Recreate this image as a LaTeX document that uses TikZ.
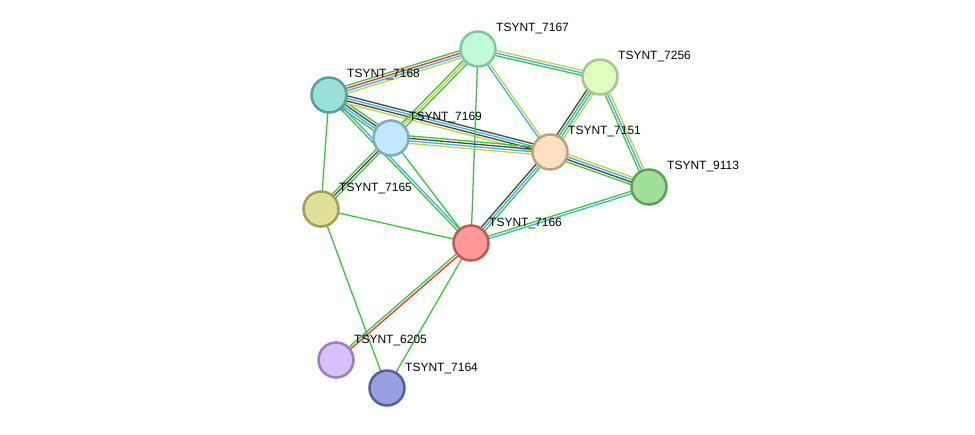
\documentclass[tikz,border=0pt]{standalone}
\usepackage{fontspec}
\setmainfont{Liberation Sans}
\usetikzlibrary{calc,backgrounds}

\definecolor{lgreen}{RGB}{60,195,60}
\definecolor{lblue}{RGB}{50,180,230}
\definecolor{lyellow}{RGB}{195,210,60}
\definecolor{ldark}{RGB}{70,70,70}
\definecolor{lred}{RGB}{240,50,50}

\tikzset{
  prot/.style={circle, minimum size=35pt, inner sep=0pt, line width=2.5pt},
  lbl/.style={anchor=west, inner sep=0pt, font=\fontsize{12}{12}\selectfont}
}

% one line per evidence channel, set side by side
\newcommand{\edgeset}[4]{%
  \foreach \col [count=\k] in {#4} {
    \pgfmathsetmacro{\off}{(\k-(#3+1)/2)*2.5}
    \draw[\col, line width=1.3pt] ($(#1)!\off pt!90:(#2)$) -- ($(#2)!\off pt!-90:(#1)$);
  }}

\begin{document}
\begin{tikzpicture}[x=1pt, y=-1pt]
  \useasboundingbox (0,0) rectangle (975,434);

  \node[prot, fill={rgb,255:red,192;green,250;blue,216}, draw={rgb,255:red,128;green,200;blue,160}] (n7167) at (478,49) {};
  \node[prot, fill={rgb,255:red,224;green,255;blue,192}, draw={rgb,255:red,168;green,200;blue,136}] (n7256) at (600,77) {};
  \node[prot, fill={rgb,255:red,152;green,224;blue,216}, draw={rgb,255:red,88;green,160;blue,152}] (n7168) at (329,95) {};
  \node[prot, fill={rgb,255:red,192;green,232;blue,255}, draw={rgb,255:red,128;green,168;blue,192}] (n7169) at (391,138) {};
  \node[prot, fill={rgb,255:red,255;green,224;blue,192}, draw={rgb,255:red,192;green,160;blue,128}] (n7151) at (550,152) {};
  \node[prot, fill={rgb,255:red,160;green,224;blue,152}, draw={rgb,255:red,96;green,160;blue,88}] (n9113) at (649,187) {};
  \node[prot, fill={rgb,255:red,224;green,224;blue,152}, draw={rgb,255:red,160;green,160;blue,88}] (n7165) at (321,209) {};
  \node[prot, fill={rgb,255:red,255;green,152;blue,152}, draw={rgb,255:red,192;green,88;blue,88}] (n7166) at (471,243) {};
  \node[prot, fill={rgb,255:red,216;green,192;blue,255}, draw={rgb,255:red,152;green,128;blue,192}] (n6205) at (336,360) {};
  \node[prot, fill={rgb,255:red,152;green,160;blue,224}, draw={rgb,255:red,80;green,96;blue,160}] (n7164) at (387,388) {};

  \begin{scope}[on background layer]
    \edgeset{n7168}{n7167}{4}{lyellow,lblue,lred,lgreen}
    \edgeset{n7168}{n7169}{4}{lgreen,lblue,ldark,lgreen}
    \edgeset{n7168}{n7151}{4}{lyellow,ldark,lblue,ldark}
    \edgeset{n7168}{n7165}{1}{lgreen}
    \edgeset{n7168}{n7166}{2}{lgreen,lblue}
    \edgeset{n7167}{n7169}{3}{lgreen,lyellow,lgreen}
    \edgeset{n7167}{n7151}{2}{lblue,lyellow}
    \edgeset{n7167}{n7256}{3}{lgreen,lblue,lyellow}
    \edgeset{n7167}{n7166}{1}{lgreen}
    \edgeset{n7169}{n7151}{4}{lyellow,lblue,ldark,lgreen}
    \edgeset{n7169}{n7165}{3}{lgreen,ldark,lgreen}
    \edgeset{n7169}{n7166}{1}{lgreen}
    \edgeset{n7256}{n7151}{4}{ldark,lgreen,lblue,lyellow}
    \edgeset{n7256}{n9113}{3}{lgreen,lblue,lyellow}
    \edgeset{n7151}{n9113}{4}{lgreen,ldark,lblue,lyellow}
    \edgeset{n7151}{n7166}{3}{ldark,lblue,lgreen}
    \edgeset{n9113}{n7166}{2}{lgreen,lblue}
    \edgeset{n7165}{n7166}{1}{lgreen}
    \edgeset{n7165}{n7164}{1}{lgreen}
    \edgeset{n7166}{n6205}{2}{lgreen,lred}
    \edgeset{n7166}{n7164}{1}{lgreen}
  \end{scope}

  % labels
  \foreach \p in {7167,7256,7168,7169,7151,9113,7165,7166,6205,7164}
    \node[lbl] (t\p) at ([shift={(18,-20)}]n\p.center) {TSYNT\_\p};
\end{tikzpicture}
\end{document}
